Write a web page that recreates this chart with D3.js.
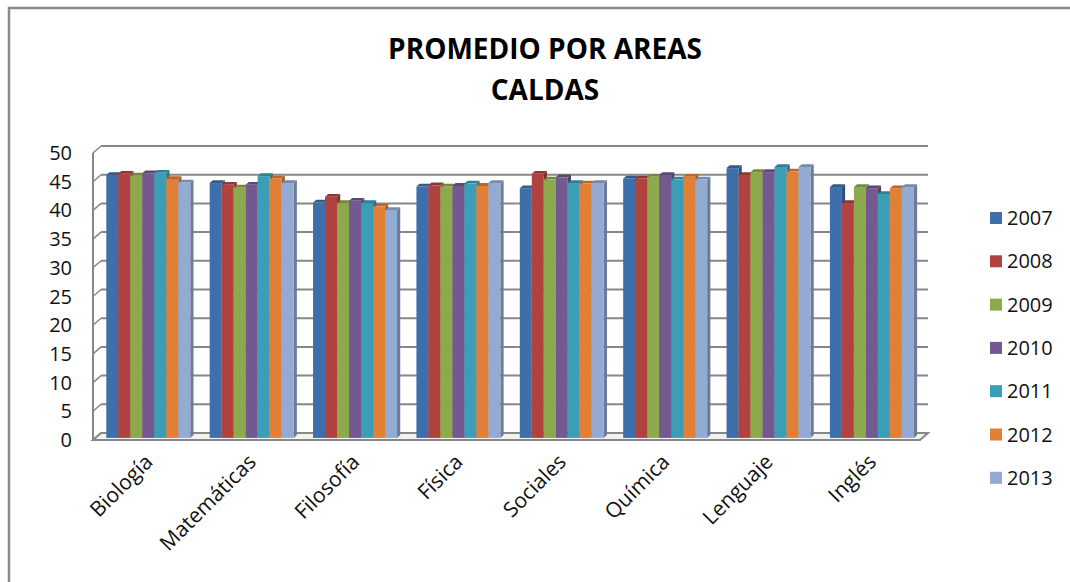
<!DOCTYPE html>
<html><head><meta charset="utf-8">
<script src="https://cdn.jsdelivr.net/npm/d3@7"></script>
<style>body{margin:0;background:#fff}svg{display:block}</style>
</head><body><svg id="c" width="1070" height="582"></svg>
<script>
const categories = ["Biología","Matemáticas","Filosofía","Física","Sociales","Química","Lenguaje","Inglés"];
const years = ["2007","2008","2009","2010","2011","2012","2013"];
const v2007 = [45.8, 44.4, 41.0, 43.8, 43.5, 45.2, 47.0, 43.7];
const v2008 = [46.0, 44.1, 42.0, 44.0, 46.0, 45.2, 45.8, 40.9];
const v2009 = [45.7, 43.6, 40.9, 43.8, 45.0, 45.5, 46.3, 43.7];
const v2010 = [46.1, 44.1, 41.3, 43.9, 45.4, 45.8, 46.3, 43.5];
const v2011 = [46.2, 45.6, 40.9, 44.3, 44.4, 45.0, 47.2, 42.5];
const v2012 = [45.1, 45.2, 40.3, 43.9, 44.3, 45.5, 46.4, 43.5];
const v2013 = [44.5, 44.4, 39.7, 44.4, 44.4, 45.0, 47.2, 43.7];
const series = [v2007, v2008, v2009, v2010, v2011, v2012, v2013];
const yTicks = [0,5,10,15,20,25,30,35,40,45,50];
const colors = ["#3F6FAA","#B0433F","#8CAA4C","#73598F","#3B9DB6","#E07F36","#93AAD2"];

const svg = d3.select("#c");
// outer border
svg.append("rect").attr("x",9).attr("y",8).attr("width",1100).attr("height",600)
  .attr("fill","none").attr("stroke","#8a8a8a").attr("stroke-width",2.5);

// title
const title = svg.append("text").attr("text-anchor","middle")
  .attr("font-family","'Open Sans', 'Liberation Sans', sans-serif").attr("font-weight","bold")
  .attr("font-size",28).attr("fill","#000");
title.append("tspan").attr("x",545).attr("y",59).text("PROMEDIO POR AREAS");
title.append("tspan").attr("x",545).attr("y",100).text("CALDAS");

const x0 = 93, x1 = 920, DX = 8, DY = -7;
const y = d3.scaleLinear().domain([0,50]).range([440,153]);
const xb = d3.scaleBand().domain(categories).range([x0,x1]);
const xi = d3.scaleBand().domain(years).range([0,84]);

const grid = "#878787";
// back wall gridlines
svg.append("g").selectAll("line").data(yTicks).join("line")
  .attr("x1",x0+DX).attr("x2",x1+DX)
  .attr("y1",d=>y(d)+DY).attr("y2",d=>y(d)+DY)
  .attr("stroke",grid).attr("stroke-width",2);
// side wall diagonals
svg.append("g").selectAll("line").data(yTicks).join("line")
  .attr("x1",x0).attr("x2",x0+DX)
  .attr("y1",d=>y(d)).attr("y2",d=>y(d)+DY)
  .attr("stroke",grid).attr("stroke-width",1.5);
svg.append("line").attr("x1",x0).attr("x2",x0).attr("y1",y(50)).attr("y2",y(0))
  .attr("stroke",grid).attr("stroke-width",2);
// floor
svg.append("path").attr("d",`M${x0},${y(0)}L${x1},${y(0)}L${x1+DX},${y(0)+DY}L${x0+DX},${y(0)+DY}Z`)
  .attr("fill","#f2f2f2").attr("stroke",grid).attr("stroke-width",2);

// y labels
svg.append("g").selectAll("text").data(yTicks).join("text")
  .attr("x",72).attr("y",d=>y(d)).attr("dy","0.35em").attr("text-anchor","end")
  .attr("font-family","'Open Sans', 'Liberation Sans', sans-serif").attr("font-size",20).attr("fill","#111")
  .text(d=>d);

// bars
const f0 = 0.3, f1 = 0.7;
const bars = svg.append("g");
categories.forEach((c,ci)=>{
  const gx = xb(c) + (xb.bandwidth()-84)/2 + DX*0.15;
  years.forEach((yr,si)=>{
    const v = series[si][ci];
    const col = d3.color(colors[si]);
    const bx = gx + xi(yr), bw = xi.bandwidth();
    const ox = DX*f0, oy = DY*f0, ex = DX*f1, ey = DY*f1;
    const top = y(v), bot = y(0);
    bars.append("path").attr("d",`M${bx+bw+ox},${top+oy}L${bx+bw+ex},${top+ey}L${bx+bw+ex},${bot+ey}L${bx+bw+ox},${bot+oy}Z`)
      .attr("fill",col.darker(0.9));
    bars.append("path").attr("d",`M${bx+ox},${top+oy}L${bx+bw+ox},${top+oy}L${bx+bw+ex},${top+ey}L${bx+ex},${top+ey}Z`)
      .attr("fill",col.darker(0.6));
    bars.append("rect").attr("x",bx+ox).attr("y",top+oy).attr("width",bw).attr("height",bot-top)
      .attr("fill",col);
  });
});

// x labels
svg.append("g").selectAll("text").data(categories).join("text")
  .attr("transform",d=>`translate(${xb(d)+xb.bandwidth()/2+4},${458}) rotate(-45)`)
  .attr("text-anchor","end").attr("dy","0.35em")
  .attr("font-family","'Open Sans', 'Liberation Sans', sans-serif").attr("font-size",21).attr("fill","#111")
  .text(d=>d);

// legend
const lg = svg.append("g").selectAll("g").data(years).join("g")
  .attr("transform",(d,i)=>`translate(990,${218+i*43.3})`);
lg.append("rect").attr("x",0).attr("y",-6).attr("width",12).attr("height",12).attr("fill",(d,i)=>colors[i]);
lg.append("text").attr("x",17).attr("y",0).attr("dy","0.35em")
  .attr("font-family","'Open Sans', 'Liberation Sans', sans-serif").attr("font-size",20).attr("fill","#111")
  .text(d=>d);
</script></body></html>
